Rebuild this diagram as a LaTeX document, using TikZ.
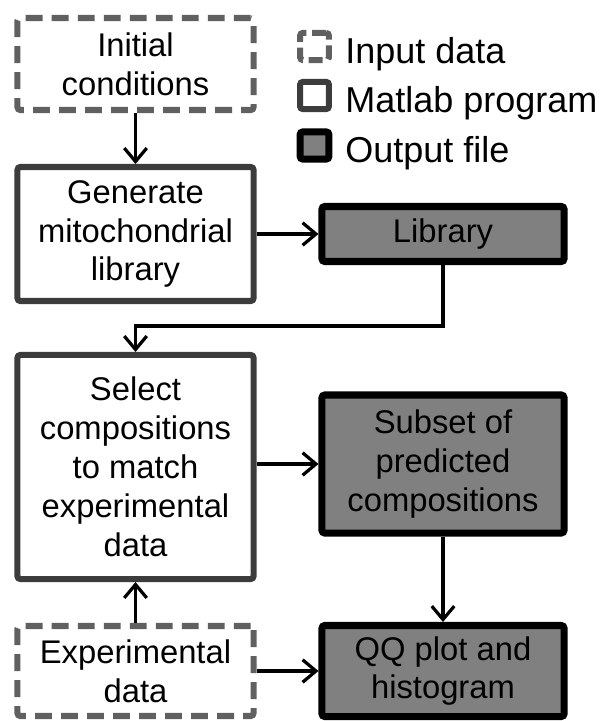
\documentclass[tikz,border=0pt]{standalone}
\usepackage{fontspec}
\setmainfont{Liberation Sans}
\usetikzlibrary{arrows.meta, positioning}
\definecolor{inGray}{RGB}{96, 96, 96}
\definecolor{progGray}{RGB}{60, 60, 60}
\definecolor{outFill}{RGB}{128, 128, 128}

\begin{document}
\begin{tikzpicture}[
  x=0.025cm, y=-0.025cm,
  inbox/.style={draw=inGray, fill=white, line width=4.3pt,
                dash pattern=on 12pt off 6.5pt, rounded corners=2pt,
                minimum width=5.9cm, minimum height=2.3cm, align=center,
                font=\fontsize{23.3pt}{27.7pt}\selectfont},
  progbox/.style={draw=progGray, fill=white, line width=4.3pt, rounded corners=2pt,
                  minimum width=5.9cm, align=center,
                  font=\fontsize{23.3pt}{27.7pt}\selectfont},
  outbox/.style={draw=black, fill=outFill, line width=5pt, rounded corners=2pt,
                 minimum width=6.05cm, align=center, text=black,
                 font=\fontsize{23.3pt}{27.7pt}\selectfont},
  legicon/.style={minimum width=0.72cm, minimum height=0.68cm, inner sep=0pt},
  legtext/.style={anchor=base west, inner sep=0pt,
                  font=\fontsize{25.6pt}{30pt}\selectfont},
  flow/.style={line width=2.3pt, -{Straight Barb[length=9.5pt, width=16pt]}}
]
  \useasboundingbox (0,0) rectangle (605,721);

  % Legend
  \node[inbox, legicon, dash pattern=on 10pt off 4pt] (lin) at (314.5,46.5) {};
  \node[progbox, legicon] (lprog) at (314.5,95.5) {};
  \node[outbox, legicon] (lout) at (314.5,145.5) {};
  \node[legtext] (lintxt) at (345,64) {Input data};
  \node[legtext] (lprogtxt) at (345,113) {Matlab program};
  \node[legtext] (louttxt) at (345,163) {Output file};

  % Left column: inputs and programs
  \node[inbox] (init) at (135.5,64) {Initial\\conditions};
  \node[progbox, minimum height=3.35cm] (gen) at (135.5,234)
    {Generate\\mitochondrial\\library};
  \node[progbox, minimum height=5.6cm] (sel) at (135.5,467)
    {Select\\compositions\\to match\\experimental\\data};
  \node[inbox, minimum height=2.25cm] (exp) at (135.5,671) {Experimental\\data};

  % Right column: output files
  \node[outbox, minimum height=1.375cm] (lib) at (443,234) {Library};
  \node[outbox, minimum height=3.45cm] (sub) at (443,464)
    {Subset of\\predicted\\compositions};
  \node[outbox, minimum height=2.275cm] (qq) at (443,671) {QQ plot and\\histogram};

  % Flow arrows
  \coordinate (bend) at (443,326);
  \draw[flow] (init) -- (gen);
  \draw[flow] (gen) -- (lib);
  \draw[flow] (lib.south) -- (bend) -| (sel.north);
  \draw[flow] (sel.east |- sub) -- (sub.west);
  \draw[flow] (sub) -- (qq);
  \draw[flow] (exp) -- (sel);
  \draw[flow] (exp) -- (qq);

\end{tikzpicture}
\end{document}
